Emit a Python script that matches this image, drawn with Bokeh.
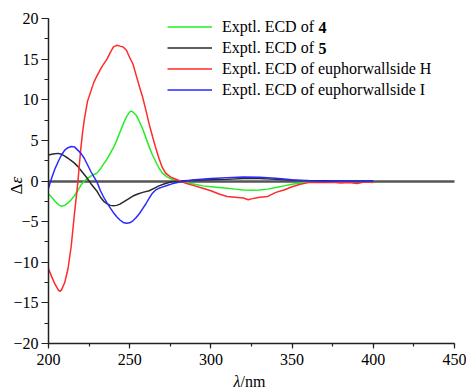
import math
from bokeh.plotting import figure
from bokeh.models import (Range1d, SingleIntervalTicker, FixedTicker, Label, Legend,
                          LegendItem, CustomJSTickFormatter, LinearAxis, Grid)
from bokeh.embed import file_html
from bokeh.resources import INLINE

# ---------------- data ----------------
wl_4 = [200, 202, 204, 206, 208, 210, 212, 214, 216, 218, 220, 222, 224, 226, 228,
        230, 232, 234, 236, 238, 240, 242, 244, 246, 248, 250, 251, 252, 254, 256,
        258, 260, 262, 264, 266, 268, 270, 273, 276, 280, 285, 290, 295, 300, 305,
        310, 315, 320, 325, 330, 335, 340, 345, 350, 355, 360, 370, 380, 390, 400]
cd_4 = [-1.6, -2.0, -2.5, -2.9, -3.1, -3.0, -2.7, -2.3, -1.8, -1.2, -0.5, 0.0, 0.3, 0.6, 0.8,
        1.0, 1.5, 2.1, 2.7, 3.4, 4.1, 5.0, 6.0, 7.0, 7.9, 8.5, 8.6, 8.5, 8.1, 7.3,
        6.4, 5.3, 4.2, 3.2, 2.4, 1.6, 1.0, 0.5, 0.2, 0.0, -0.2, -0.4, -0.6, -0.7, -0.8,
        -0.9, -1.0, -1.1, -1.15, -1.1, -1.0, -0.8, -0.6, -0.4, -0.25, -0.1, -0.05, -0.05, 0.0, -0.05]

wl_5 = [200, 202, 204, 206, 208, 210, 212, 214, 216, 218, 220, 222, 224, 226, 228,
        230, 232, 234, 236, 238, 240, 242, 244, 246, 248, 250, 252, 255, 258, 262,
        265, 268, 272, 276, 280, 290, 300, 310, 320, 330, 340, 350, 360, 380, 400]
cd_5 = [3.2, 3.3, 3.35, 3.4, 3.3, 3.05, 2.8, 2.5, 2.2, 1.8, 1.3, 0.8, 0.3, -0.3, -0.8,
        -1.3, -2.0, -2.5, -2.8, -3.0, -3.05, -3.0, -2.85, -2.6, -2.35, -2.1, -1.85, -1.6, -1.4, -1.2,
        -0.9, -0.6, -0.3, -0.1, 0.0, 0.1, 0.15, 0.2, 0.3, 0.3, 0.2, 0.1, 0.05, 0.0, 0.0]

wl_H = [200, 202, 204, 206, 207, 208, 210, 212, 214, 216, 218, 219, 220, 221, 222,
        224, 226, 228, 230, 233, 236, 238, 240, 242, 244, 246, 248, 250, 252, 254,
        256, 258, 260, 262, 264, 266, 268, 270, 272, 275, 280, 285, 290, 295, 300,
        305, 310, 315, 320, 323, 325, 330, 335, 340, 345, 350, 355, 360, 365, 370,
        375, 380, 385, 390, 395, 400]
cd_H = [-10.8, -11.8, -12.7, -13.4, -13.6, -13.4, -12.5, -10.8, -8.0, -4.0, -0.3, 2.0, 4.2, 6.0, 7.5,
        9.8, 11.0, 12.2, 13.0, 14.1, 15.0, 15.8, 16.5, 16.7, 16.6, 16.5, 16.1, 15.2, 14.4, 13.0,
        11.6, 10.3, 8.7, 7.0, 5.5, 4.1, 2.8, 1.7, 1.0, 0.5, 0.1, -0.3, -0.6, -0.9, -1.2,
        -1.6, -1.9, -2.0, -2.1, -2.3, -2.2, -2.0, -1.9, -1.4, -1.1, -0.7, -0.4, -0.2, -0.15, -0.2,
        -0.15, -0.25, -0.2, -0.3, -0.1, -0.2]

wl_I = [200, 202, 204, 206, 208, 210, 212, 214, 216, 218, 220, 222, 224, 226, 228,
        230, 232, 234, 236, 238, 240, 242, 244, 246, 248, 250, 252, 254, 256, 258,
        260, 262, 264, 266, 268, 270, 273, 276, 280, 285, 290, 300, 310, 320, 330,
        340, 350, 360, 370, 380, 390, 400]
cd_I = [-0.9, 0.4, 1.5, 2.4, 3.2, 3.8, 4.1, 4.25, 4.2, 3.8, 3.4, 2.8, 2.0, 1.2, 0.5,
        -0.2, -1.2, -2.0, -2.7, -3.3, -3.9, -4.4, -4.8, -5.1, -5.2, -5.15, -4.9, -4.5, -4.0, -3.4,
        -2.8, -2.1, -1.5, -1.1, -0.9, -0.75, -0.55, -0.35, -0.15, 0.0, 0.15, 0.3, 0.4, 0.5, 0.45,
        0.35, 0.15, 0.0, -0.05, 0.0, -0.05, 0.0]

x_limits = (200, 450)
y_limits = (-20, 20)
x_tick_step = 50
y_tick_step = 5
legend_labels = ["Exptl. ECD of", "Exptl. ECD of",
                 "Exptl. ECD of euphorwallside H", "Exptl. ECD of euphorwallside I"]
legend_bold = ["4", "5"]

FONT = "Liberation Serif"
W, H = 466, 389

# layout: where the axes box sits on the canvas (pixels)
AX_LEFT, AX_RIGHT, AX_TOP, AX_BOTTOM = 48, 454, 18, 343
kx = (AX_RIGHT - AX_LEFT) / (x_limits[1] - x_limits[0])
ky = (AX_BOTTOM - AX_TOP) / (y_limits[1] - y_limits[0])
x0 = x_limits[0] - AX_LEFT / kx
x1 = x0 + W / kx
y1 = y_limits[1] + AX_TOP / ky
y0 = y1 - H / ky


def dx(px):
    return x0 + px / kx


def dy(py):
    return y1 - py / ky


p = figure(width=W, height=H, output_backend="svg", toolbar_location=None,
           x_range=Range1d(x0, x1), y_range=Range1d(y0, y1),
           x_axis_location=None, y_axis_location=None,
           min_border=0, min_border_left=0, min_border_right=0,
           min_border_top=0, min_border_bottom=0)
for g in p.select(type=Grid):
    g.visible = False
p.outline_line_color = None
p.background_fill_color = "white"
p.border_fill_color = "white"

fmt = CustomJSTickFormatter(code="return (tick < 0 ? '\u2212' : '') + Math.abs(tick);")

# zero line drawn as an axis without ticks
zero_axis = LinearAxis(fixed_location=0, bounds=x_limits,
                       ticker=FixedTicker(ticks=[], minor_ticks=[]),
                       axis_line_color="#555555", axis_line_width=2.5,
                       major_tick_line_color=None, minor_tick_line_color=None,
                       major_label_text_font_size="0px", level="underlay")
p.add_layout(zero_axis, "below")

xa = LinearAxis(fixed_location=y_limits[0], bounds=x_limits,
                ticker=SingleIntervalTicker(interval=x_tick_step, num_minor_ticks=2))
xa.major_tick_out = 5
xa.major_tick_in = 0
xa.minor_tick_out = 3
xa.minor_tick_in = 0
xa.major_label_standoff = 5
ya = LinearAxis(fixed_location=x_limits[0], bounds=y_limits,
                ticker=SingleIntervalTicker(interval=y_tick_step, num_minor_ticks=2))
ya.major_tick_out = 7
ya.major_tick_in = 0
ya.minor_tick_out = 4
ya.minor_tick_in = 0
ya.major_label_standoff = 3
for ax in (xa, ya):
    ax.formatter = fmt
    ax.axis_line_width = 1.5
    ax.axis_line_color = "#222222"
    ax.major_tick_line_color = "#222222"
    ax.minor_tick_line_color = "#222222"
    ax.major_tick_line_width = 1.2
    ax.minor_tick_line_width = 1.2
    ax.major_label_text_font = FONT
    ax.major_label_text_font_size = "16px"
    ax.major_label_text_color = "black"
p.add_layout(xa, "below")
p.add_layout(ya, "left")

r4 = p.line(wl_4, cd_4, line_color="#22ee22", line_width=1.5)
r5 = p.line(wl_5, cd_5, line_color="#2a2a2a", line_width=1.5)
rH = p.line(wl_H, cd_H, line_color="#ff2a2a", line_width=1.5)
rI = p.line(wl_I, cd_I, line_color="#2a2aff", line_width=1.5)

items = [LegendItem(label=lab, renderers=[r]) for lab, r in
         zip(legend_labels, [r4, r5, rH, rI])]
legend = Legend(items=items, location=(167, H - 100), orientation="vertical",
                glyph_width=45, glyph_height=21, label_height=21,
                label_standoff=10, spacing=0, padding=0, margin=0,
                border_line_color=None, background_fill_alpha=0,
                label_text_font=FONT, label_text_font_size="16px",
                label_text_color="black")
p.add_layout(legend)

for i, b in enumerate(legend_bold):
    p.add_layout(Label(x=dx(318), y=dy(26.5 + 21 * i), text=b, text_font=FONT,
                       text_font_size="16px", text_font_style="bold",
                       text_baseline="middle", text_align="left", text_color="black"))

# y axis label: Δε
p.add_layout(Label(x=dx(15.5), y=dy(183), text="\u0394", angle=math.pi / 2,
                   text_font=FONT, text_font_size="17px", text_align="right",
                   text_baseline="middle", text_color="black"))
p.add_layout(Label(x=dx(15.5), y=dy(183), text="\u03b5", angle=math.pi / 2,
                   text_font=FONT, text_font_size="17px", text_font_style="italic",
                   text_align="left", text_baseline="middle", text_color="black"))

# x axis label: λ/nm
p.add_layout(Label(x=dx(240), y=dy(381), text="\u03bb", text_font=FONT,
                   text_font_size="16px", text_font_style="italic",
                   text_align="right", text_baseline="alphabetic", text_color="black"))
p.add_layout(Label(x=dx(240), y=dy(381), text="/nm", text_font=FONT,
                   text_font_size="16px", text_align="left",
                   text_baseline="alphabetic", text_color="black"))

open("out.html", "w").write(file_html(p, INLINE))
